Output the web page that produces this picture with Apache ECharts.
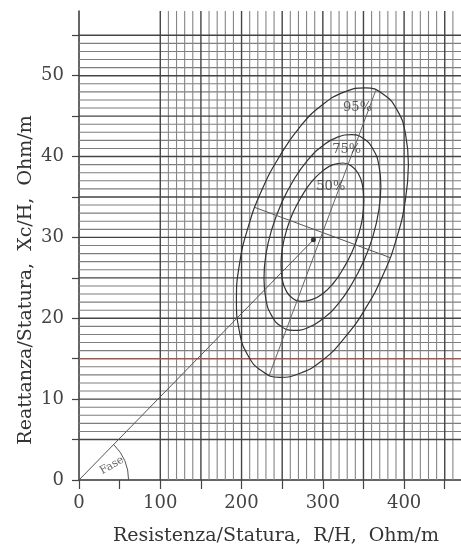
<!DOCTYPE html>
<html>
<head>
<meta charset="utf-8">
<script src="https://cdn.jsdelivr.net/npm/echarts@6/dist/echarts.min.js"></script>
<style>
html,body{margin:0;padding:0;background:#fff;}
#chart{width:461px;height:552px;}
</style>
</head>
<body>
<div id="chart"></div>
<script>
// ---- axis ranges and tick labels ----
const xMin = 0, xMax = 470;
const yMin = 0, yMax = 58;
const xTickLabels = [0, 100, 200, 300, 400];
const xTickMarks = [0, 50, 100, 150, 200, 250, 300, 350, 400, 450];
const yTickLabels = [0, 10, 20, 30, 40, 50];
const yTickMarks = [0, 5, 10, 15, 20, 25, 30, 35, 40, 45, 50, 55];

// ---- graph-paper rulings ----
const hGridMajor = [5, 10, 20, 25, 30, 35, 40, 45, 50, 55];
const hGridRed = [15];
const hGridMinor = [6,7,8,9,11,12,13,14,16,17,18,19,21,22,23,24,26,27,28,29,31,32,33,34,36,37,38,39,41,42,43,44,46,47,48,49,51,52,53,54];
const vGridMajor = [100, 150, 200, 250, 300, 350, 400, 450];
const vGridMinor = [110,120,130,140,160,170,180,190,210,220,230,240,260,270,280,290,310,320,330,340,360,370,380,390,410,420,430,440,460];

// ---- tolerance ellipses (R/H, Xc/H) ----
const ellipse95 = [[405.3,39.0],[401.7,42.8],[391.1,45.8],[374.3,47.7],[352.4,48.5],[326.9,48.0],[299.5,46.4],[272.1,43.7],[246.6,40.0],[224.7,35.8],[207.9,31.2],[197.3,26.6],[193.7,22.2],[197.3,18.4],[207.9,15.4],[224.7,13.5],[246.6,12.7],[272.1,13.2],[299.5,14.8],[326.9,17.6],[352.4,21.2],[374.3,25.4],[391.1,30.0],[401.7,34.7],[405.3,39.0]];
const ellipse75 = [[371.4,36.3],[369.0,38.9],[361.8,40.9],[350.4,42.2],[335.5,42.7],[318.1,42.4],[299.5,41.3],[280.9,39.5],[263.5,37.0],[248.6,34.1],[237.2,31.0],[230.0,27.9],[227.6,24.9],[230.0,22.3],[237.2,20.3],[248.6,19.0],[263.5,18.5],[280.9,18.8],[299.5,19.9],[318.1,21.7],[335.5,24.2],[350.4,27.1],[361.8,30.2],[369.0,33.4],[371.4,36.3]];
const ellipse50 = [[350.4,34.7],[348.7,36.5],[343.6,37.9],[335.5,38.8],[324.9,39.2],[312.7,39.0],[299.5,38.2],[286.3,36.9],[274.1,35.1],[263.5,33.1],[255.4,30.9],[250.3,28.7],[248.6,26.6],[250.3,24.7],[255.4,23.3],[263.5,22.4],[274.1,22.1],[286.3,22.3],[299.5,23.0],[312.7,24.3],[324.9,26.1],[335.5,28.1],[343.6,30.3],[348.7,32.4],[350.4,34.7]];
const majorAxis = [[234.2,13.0],[365.2,48.2]];
const minorAxis = [[216.5,33.7],[382.9,27.5]];
const vectorPoint = [288.4, 29.7];
const phaseLine = [[0,0], vectorPoint];
const phaseArcRadius = 61; // in R/H units
const ellipseLabels = [
  {name:'95%', value:[342.7,46.0]},
  {name:'75%', value:[329.4,40.8]},
  {name:'50%', value:[309.8,36.3]}
];
const phaseLabel = [{name:'Fase', value:[40.6,1.8]}];

const serif = 'DejaVu Serif';

function hLineSeries(list, color, width, z) {
  return {
    type: 'custom', z: z, silent: true, clip: false,
    data: list.map(v => [v]),
    renderItem: function (params, api) {
      const y = api.value(0);
      const a = api.coord([xMin, y]);
      const b = api.coord([xMax, y]);
      return {type:'line', shape:{x1:a[0], y1:a[1], x2:b[0], y2:b[1]}, style:{stroke:color, lineWidth:width}};
    }
  };
}
function vLineSeries(list, color, width, z) {
  return {
    type: 'custom', z: z, silent: true, clip: false,
    data: list.map(v => [v]),
    renderItem: function (params, api) {
      const x = api.value(0);
      const a = api.coord([x, yMin]);
      const b = api.coord([x, yMax]);
      return {type:'line', shape:{x1:a[0], y1:a[1], x2:b[0], y2:b[1]}, style:{stroke:color, lineWidth:width}};
    }
  };
}
function curve(data, color, width) {
  return {type:'line', data:data, smooth:true, symbol:'none', z:5, silent:true,
          lineStyle:{color:color, width:width}};
}
function straight(data, color, width) {
  return {type:'line', data:data, smooth:false, symbol:'none', z:5, silent:true,
          lineStyle:{color:color, width:width}};
}

const chart = echarts.init(document.getElementById('chart'), null, {renderer:'canvas'});
chart.setOption({
  animation: false,
  backgroundColor: '#ffffff',
  grid: {left:79, top:11, right:0, bottom:72, containLabel:false},
  xAxis: {
    type:'value', min:xMin, max:xMax, interval:50,
    axisLine:{show:true, onZero:false, lineStyle:{color:'#333', width:1.5}},
    axisTick:{show:true, customValues:xTickMarks, length:9, lineStyle:{color:'#444', width:1.2}},
    axisLabel:{show:true, customValues:xTickLabels, fontFamily:serif, fontSize:18, color:'#444', margin:14},
    splitLine:{show:false}
  },
  yAxis: {
    type:'value', min:yMin, max:yMax, interval:5,
    axisLine:{show:true, onZero:false, lineStyle:{color:'#333', width:1.5}},
    axisTick:{show:true, customValues:yTickMarks, length:7, lineStyle:{color:'#444', width:1.2}},
    axisLabel:{show:true, customValues:yTickLabels, fontFamily:serif, fontSize:18, color:'#444', margin:15},
    splitLine:{show:false}
  },
  graphic: [
    {type:'text', x:276, y:536, silent:true,
     style:{text:'Resistenza/Statura,  R/H,  Ohm/m', fontFamily:serif, fontSize:19, fill:'#333',
            align:'center', verticalAlign:'middle'}},
    {type:'text', x:26, y:280, rotation:Math.PI/2, silent:true,
     style:{text:'Reattanza/Statura,  Xc/H,  Ohm/m', fontFamily:serif, fontSize:19, fill:'#333',
            align:'center', verticalAlign:'middle'}}
  ],
  series: [
    hLineSeries(hGridMinor, '#7e7e7e', 1.1, 1),
    vLineSeries(vGridMinor, '#858585', 1.1, 1),
    hLineSeries(hGridMajor, '#444', 1.4, 2),
    vLineSeries(vGridMajor, '#444', 1.4, 2),
    hLineSeries(hGridRed, '#a5554f', 1.4, 2),
    curve(ellipse95, '#333', 1.2),
    curve(ellipse75, '#333', 1.2),
    curve(ellipse50, '#333', 1.2),
    straight(majorAxis, '#666', 1),
    straight(minorAxis, '#555', 1),
    straight(phaseLine, '#555', 1),
    {
      type:'custom', z:5, silent:true, clip:false,
      data:[[0,0]],
      renderItem: function (params, api) {
        const o = api.coord([0, 0]);
        const d = api.coord(vectorPoint);
        const ang = Math.atan2(d[1]-o[1], d[0]-o[0]);
        const r = api.size([phaseArcRadius, 0])[0];
        return {type:'arc', shape:{cx:o[0], cy:o[1], r:r, startAngle:ang, endAngle:0, clockwise:true},
                style:{stroke:'#555', fill:null, lineWidth:1}};
      }
    },
    {
      type:'scatter', z:6, silent:true, data:[vectorPoint], symbol:'circle', symbolSize:5,
      itemStyle:{color:'#111'}
    },
    {
      type:'scatter', z:7, silent:true, data:ellipseLabels, symbolSize:0,
      label:{show:true, position:'inside', formatter:'{b}', fontFamily:serif, fontSize:13, color:'#333'}
    },
    {
      type:'scatter', z:7, silent:true, data:phaseLabel, symbolSize:0,
      label:{show:true, position:'inside', formatter:'{b}', fontFamily:serif, fontSize:11, color:'#444', rotate:30}
    }
  ]
});
</script>
</body>
</html>
